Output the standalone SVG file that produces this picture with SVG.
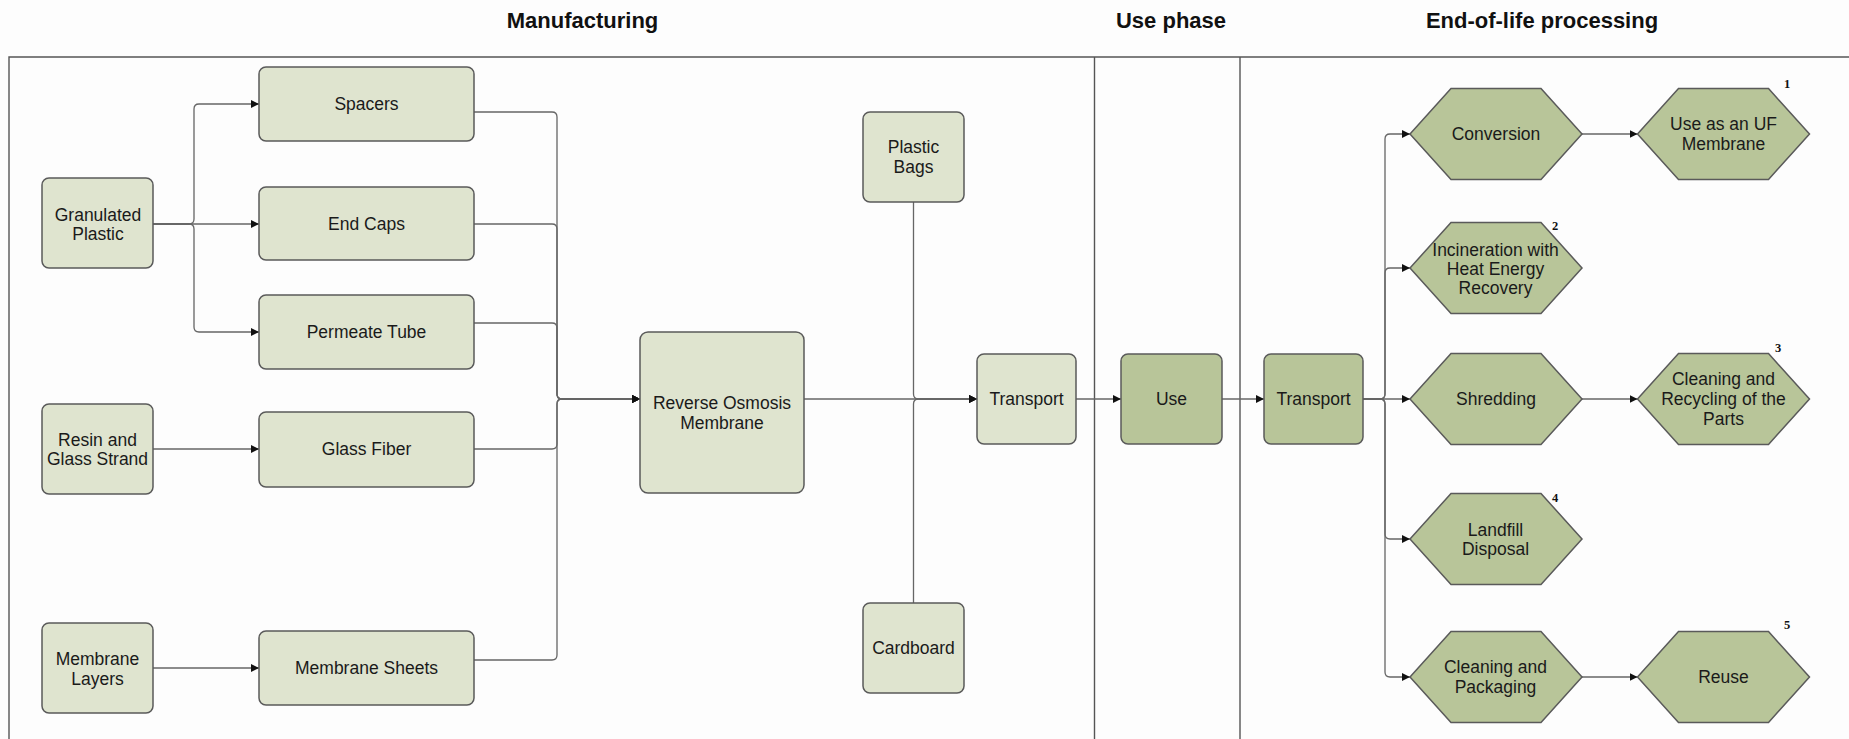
<svg xmlns="http://www.w3.org/2000/svg" width="1849" height="739" viewBox="0 0 1849 739">
  <defs>
    <style>
      .frame { stroke: #555; stroke-width: 1.4; fill: none; }
      .head { font-family: "Liberation Sans", Arial, sans-serif; font-weight: bold; font-size: 22px; fill: #111; text-anchor: middle; }
      .box { fill: #dfe4cf; stroke: #5a5a5a; stroke-width: 1.5; }
      .dark { fill: #b8c599; stroke: #5a5a5a; stroke-width: 1.5; }
      .lbl { font-family: "Liberation Sans", Arial, sans-serif; font-size: 17.5px; fill: #1a1a1a; text-anchor: middle; dominant-baseline: central; }
      .num { font-family: "Liberation Serif", "Times New Roman", serif; font-weight: bold; font-size: 12.5px; fill: #111; text-anchor: middle; }
      .edge { fill: none; stroke: #666; stroke-width: 1.3; marker-end: url(#arrow); }
      .edge-plain { fill: none; stroke: #666; stroke-width: 1.3; }
    </style>
    <marker id="arrow" viewBox="0 0 8 8" refX="8" refY="4" markerWidth="8" markerHeight="8" markerUnits="userSpaceOnUse" orient="auto">
      <path d="M0,0 L8,4 L0,8 z" fill="#111"/>
    </marker>
    <polygon id="hex" points="-86,0 -45,-45.5 45,-45.5 86,0 45,45.5 -45,45.5"/>
  </defs>

  <rect width="1849" height="739" fill="#fdfdfd"/>

  <!-- swimlane frame and section headers -->
  <g id="lanes">
    <path class="frame" d="M9,739 V57 H1849 M1094.5,57 V739 M1240,57 V739"/>
    <text class="head" x="582.5" y="28">Manufacturing</text>
    <text class="head" x="1171" y="28">Use phase</text>
    <text class="head" x="1542" y="28">End-of-life processing</text>
  </g>

  <!-- connectors -->
  <g id="connectors">
    <path class="edge" d="M132,224 H189 Q194,224 194,219 V109 Q194,104 199,104 H259"/>
    <path class="edge" d="M132,224 H259"/>
    <path class="edge" d="M132,224 H189 Q194,224 194,229 V327 Q194,332 199,332 H259"/>
    <path class="edge" d="M132,449 H259"/>
    <path class="edge" d="M153,668 H259"/>

    <path class="edge" d="M474,112 H552 Q557,112 557,117 V394 Q557,399 562,399 H640"/>
    <path class="edge" d="M474,224 H552 Q557,224 557,229 V394 Q557,399 562,399 H640"/>
    <path class="edge" d="M474,323 H552 Q557,323 557,328 V394 Q557,399 562,399 H640"/>
    <path class="edge" d="M474,449 H552 Q557,449 557,444 V404 Q557,399 562,399 H640"/>
    <path class="edge" d="M474,660 H552 Q557,660 557,655 V404 Q557,399 562,399 H640"/>

    <path class="edge" d="M804,399 H977"/>
    <path class="edge" d="M913.5,202 V394 Q913.5,399 918.5,399 H977"/>
    <path class="edge" d="M913.5,603 V404 Q913.5,399 918.5,399 H977"/>
    <path class="edge" d="M1076,399 H1121"/>
    <path class="edge" d="M1222,399 H1264"/>

    <path class="edge" d="M1363,399 H1380 Q1385,399 1385,394 V139 Q1385,134 1390,134 H1410"/>
    <path class="edge" d="M1363,399 H1380 Q1385,399 1385,394 V273 Q1385,268 1390,268 H1410"/>
    <path class="edge" d="M1363,399 H1410"/>
    <path class="edge" d="M1363,399 H1380 Q1385,399 1385,404 V534 Q1385,539 1390,539 H1410"/>
    <path class="edge" d="M1363,399 H1380 Q1385,399 1385,404 V672 Q1385,677 1390,677 H1410"/>

    <path class="edge" d="M1582,134 H1637.5"/>
    <path class="edge" d="M1582,399 H1637.5"/>
    <path class="edge" d="M1582,677 H1637.5"/>
  </g>

  <!-- manufacturing nodes -->
  <g id="granulated-plastic">
    <rect class="box" x="42" y="178" width="111" height="90" rx="7"/>
    <text class="lbl" x="98" y="214.5">Granulated</text>
    <text class="lbl" x="98" y="233.5">Plastic</text>
  </g>
  <g id="resin-glass-strand">
    <rect class="box" x="42" y="404" width="111" height="90" rx="7"/>
    <text class="lbl" x="97.5" y="439.5">Resin and</text>
    <text class="lbl" x="97.5" y="458.5">Glass Strand</text>
  </g>
  <g id="membrane-layers">
    <rect class="box" x="42" y="623" width="111" height="90" rx="7"/>
    <text class="lbl" x="97.5" y="658.5">Membrane</text>
    <text class="lbl" x="97.5" y="678.5">Layers</text>
  </g>
  <g id="spacers">
    <rect class="box" x="259" y="67" width="215" height="74" rx="7"/>
    <text class="lbl" x="366.5" y="104">Spacers</text>
  </g>
  <g id="end-caps">
    <rect class="box" x="259" y="187" width="215" height="73" rx="7"/>
    <text class="lbl" x="366.5" y="223.5">End Caps</text>
  </g>
  <g id="permeate-tube">
    <rect class="box" x="259" y="295" width="215" height="74" rx="7"/>
    <text class="lbl" x="366.5" y="332">Permeate Tube</text>
  </g>
  <g id="glass-fiber">
    <rect class="box" x="259" y="412" width="215" height="75" rx="7"/>
    <text class="lbl" x="366.5" y="449">Glass Fiber</text>
  </g>
  <g id="membrane-sheets">
    <rect class="box" x="259" y="631" width="215" height="74" rx="7"/>
    <text class="lbl" x="366.5" y="668">Membrane Sheets</text>
  </g>
  <g id="reverse-osmosis-membrane">
    <rect class="box" x="640" y="332" width="164" height="161" rx="8"/>
    <text class="lbl" x="722" y="403">Reverse Osmosis</text>
    <text class="lbl" x="722" y="423">Membrane</text>
  </g>
  <g id="plastic-bags">
    <rect class="box" x="863" y="112" width="101" height="90" rx="7"/>
    <text class="lbl" x="913.5" y="147">Plastic</text>
    <text class="lbl" x="913.5" y="167">Bags</text>
  </g>
  <g id="cardboard">
    <rect class="box" x="863" y="603" width="101" height="90" rx="7"/>
    <text class="lbl" x="913.5" y="648">Cardboard</text>
  </g>
  <g id="transport-1">
    <rect class="box" x="977" y="354" width="99" height="90" rx="7"/>
    <text class="lbl" x="1026.5" y="399">Transport</text>
  </g>

  <!-- use phase -->
  <g id="use">
    <rect class="dark" x="1121" y="354" width="101" height="90" rx="7"/>
    <text class="lbl" x="1171.5" y="399">Use</text>
  </g>

  <!-- end-of-life nodes -->
  <g id="transport-2">
    <rect class="dark" x="1264" y="354" width="99" height="90" rx="7"/>
    <text class="lbl" x="1313.5" y="399">Transport</text>
  </g>
  <g id="conversion">
    <use href="#hex" class="dark" x="1496" y="134"/>
    <text class="lbl" x="1496" y="134">Conversion</text>
  </g>
  <g id="uf-membrane">
    <use href="#hex" class="dark" x="1723.5" y="134"/>
    <text class="lbl" x="1723.5" y="124">Use as an UF</text>
    <text class="lbl" x="1723.5" y="144">Membrane</text>
    <text class="num" x="1787" y="88">1</text>
  </g>
  <g id="incineration">
    <use href="#hex" class="dark" x="1496" y="268"/>
    <text class="lbl" x="1495.5" y="250">Incineration with</text>
    <text class="lbl" x="1495.5" y="269">Heat Energy</text>
    <text class="lbl" x="1495.5" y="288">Recovery</text>
    <text class="num" x="1555" y="230">2</text>
  </g>
  <g id="shredding">
    <use href="#hex" class="dark" x="1496" y="399"/>
    <text class="lbl" x="1496" y="399">Shredding</text>
  </g>
  <g id="cleaning-recycling">
    <use href="#hex" class="dark" x="1723.5" y="399"/>
    <text class="lbl" x="1723.5" y="379">Cleaning and</text>
    <text class="lbl" x="1723.5" y="399">Recycling of the</text>
    <text class="lbl" x="1723.5" y="419">Parts</text>
    <text class="num" x="1778" y="352">3</text>
  </g>
  <g id="landfill">
    <use href="#hex" class="dark" x="1496" y="539"/>
    <text class="lbl" x="1495.5" y="530">Landfill</text>
    <text class="lbl" x="1495.5" y="549">Disposal</text>
    <text class="num" x="1555" y="502">4</text>
  </g>
  <g id="cleaning-packaging">
    <use href="#hex" class="dark" x="1496" y="677"/>
    <text class="lbl" x="1495.5" y="667">Cleaning and</text>
    <text class="lbl" x="1495.5" y="687">Packaging</text>
  </g>
  <g id="reuse">
    <use href="#hex" class="dark" x="1723.5" y="677"/>
    <text class="lbl" x="1723.5" y="677">Reuse</text>
    <text class="num" x="1787" y="629">5</text>
  </g>
</svg>
